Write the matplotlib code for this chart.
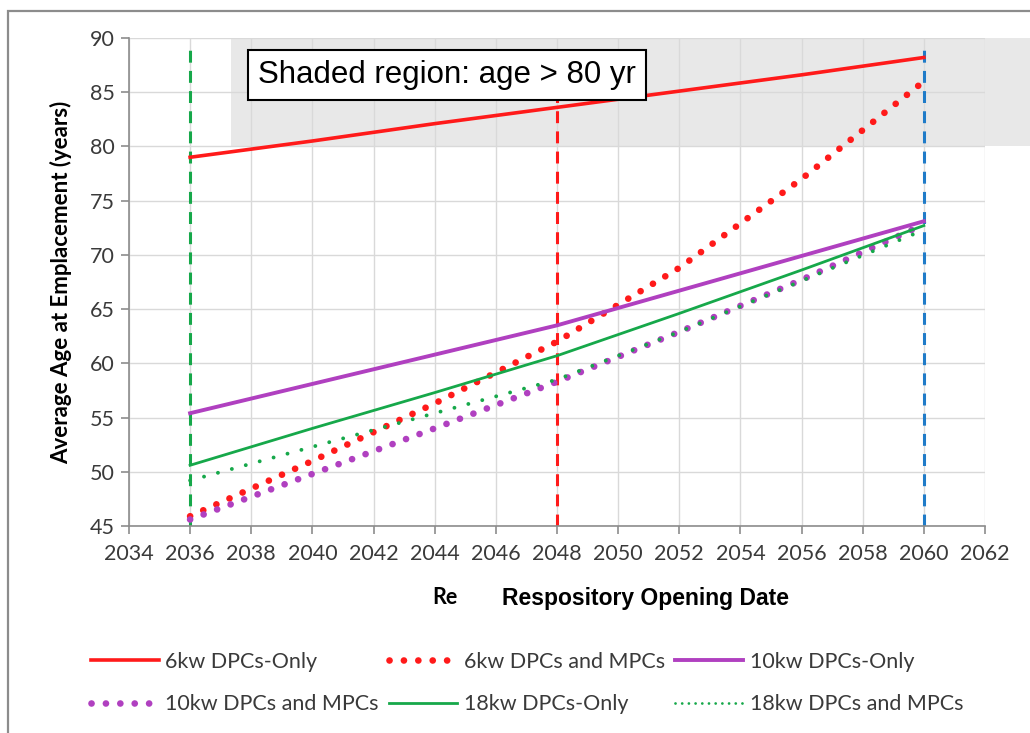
import matplotlib
matplotlib.use("Agg")
import matplotlib.pyplot as plt
from matplotlib.patches import Rectangle
from matplotlib.lines import Line2D

# data
anos = [2036, 2040, 2044, 2048, 2052, 2056, 2060]
dpc6_only = [79.0, 80.5, 82.1, 83.6, 85.1, 86.6, 88.2]
dpc6_mpc = [45.9, 51.0, 56.3, 62.0, 68.8, 77.0, 86.0]
dpc10_only = [55.4, 58.1, 60.8, 63.5, 66.7, 69.9, 73.1]
dpc10_mpc = [45.6, 49.8, 54.0, 58.3, 62.9, 67.7, 72.8]
dpc18_only = [50.6, 54.0, 57.3, 60.7, 64.6, 68.6, 72.7]
dpc18_mpc = [49.2, 52.3, 55.4, 58.5, 62.9, 67.6, 72.3]
datas_abertura = [2036, 2048, 2060]
cores_abertura = ["#16a84a", "#ff1a1a", "#1f7bc8"]

fonte_calibri = "Lato"
fonte_arial = "Liberation Sans"

fig = plt.figure(figsize=(10.30, 7.33), dpi=100)
ax = fig.add_axes([0.1252, 0.2824, 0.8311, 0.6658])

# borda cortada do grafico original
fig.patches.append(Rectangle((8 / 1030, -0.1), 1.2, 1 - 11 / 733 + 0.1,
                             transform=fig.transFigure, fill=False,
                             edgecolor="#8c8c8c", linewidth=1.6))

# regiao sombreada (idade > 80)
ax.add_patch(Rectangle((2037.35, 80), 30, 10, facecolor="#e8e8e8",
                       edgecolor="none", zorder=0.2, clip_on=False))

for x, c in zip(datas_abertura, cores_abertura):
    ax.plot([x, x], [45, 89.6], color=c, linewidth=2.2,
            linestyle=(0, (3.9, 2.7)), zorder=2)

ax.plot(anos, dpc6_only, color="#ff1a1a", linewidth=2.6,
        label="6kw DPCs-Only", zorder=3)
ax.plot(anos, dpc6_mpc, color="#ff1a1a", linewidth=4.8,
        linestyle=(0, (0.01, 2.15)), dash_capstyle="round",
        label="6kw DPCs and MPCs", zorder=3)
ax.plot(anos, dpc10_only, color="#b040c0", linewidth=2.8,
        label="10kw DPCs-Only", zorder=3)
ax.plot(anos, dpc10_mpc, color="#b040c0", linewidth=4.8,
        linestyle=(0, (0.01, 2.15)), dash_capstyle="round",
        label="10kw DPCs and MPCs", zorder=3)
ax.plot(anos, dpc18_only, color="#16a84a", linewidth=2.0,
        label="18kw DPCs-Only", zorder=3)
ax.plot(anos, dpc18_mpc, color="#16a84a", linewidth=2.8,
        linestyle=(0, (0.01, 3.7)), dash_capstyle="round",
        label="18kw DPCs and MPCs", zorder=3)

ax.set_xlim(2034, 2062)
ax.set_ylim(45, 90)
ax.set_xticks(range(2034, 2063, 2))
ax.set_yticks(range(45, 91, 5))
ax.grid(True, color="#d9d9d9", linewidth=1.0)
ax.set_axisbelow(True)
for lado in ["top", "right"]:
    ax.spines[lado].set_visible(False)
for lado in ["left", "bottom"]:
    ax.spines[lado].set_color("#8c8c8c")
    ax.spines[lado].set_linewidth(1.2)
ax.tick_params(axis="both", colors="#8c8c8c", length=6, width=1.2,
               labelcolor="#3a3a3a", labelsize=15.5)
for t in ax.get_xticklabels() + ax.get_yticklabels():
    t.set_fontfamily(fonte_calibri)
ax.tick_params(axis="x", pad=7)
ax.tick_params(axis="y", pad=4)

ax.set_ylabel("Average Age at Emplacement (years)", fontfamily=fonte_calibri,
              fontweight="bold", fontsize=16, labelpad=13)

fig.text(445 / 1030, 1 - 598 / 733, "Re", fontfamily=fonte_calibri,
         fontweight="bold", fontsize=15.5, ha="center", va="center")
fig.text(646 / 1030, 1 - 598 / 733, "Respository Opening Date",
         fontfamily=fonte_arial, fontweight="bold", fontsize=16.5,
         ha="center", va="center")

ax.text(2044.4, 86.6, "Shaded region: age > 80 yr", fontfamily=fonte_arial,
        fontsize=22.5, ha="center", va="center", zorder=5,
        bbox=dict(boxstyle="square,pad=0.33", facecolor="white",
                  edgecolor="black", linewidth=1.5))

h, l = ax.get_legend_handles_labels()
# no grafico o pontilhado verde da legenda e mais fino
h[5] = Line2D([], [], color="#16a84a", linewidth=2.0,
              linestyle=(0, (0.01, 2.4)), dash_capstyle="round")
ordem = [0, 3, 1, 4, 2, 5]
leg = fig.legend([h[i] for i in ordem], [l[i] for i in ordem], ncol=3,
                 loc="center left", bbox_to_anchor=(80 / 1030, 1 - 683 / 733),
                 frameon=False, borderpad=0, handlelength=3.15,
                 handletextpad=0.3, columnspacing=0.5, labelspacing=1.05,
                 prop={"family": fonte_calibri, "size": 15.5})
for t in leg.get_texts():
    t.set_color("#3a3a3a")

fig.savefig("out.png", dpi=100)
